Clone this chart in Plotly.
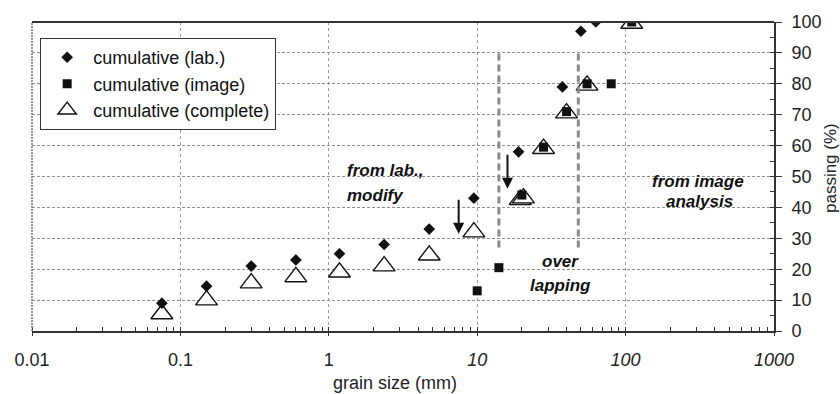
import math
import plotly.graph_objects as go

# Cumulative passing from laboratory sieving
lab_size = [0.075, 0.15, 0.3, 0.6, 1.18, 2.36, 4.75, 9.5, 19, 37.5, 50, 63]
lab_pass = [9, 14.5, 21, 23, 25, 28, 33, 43, 58, 79, 97, 100]

# Cumulative passing from image analysis
img_size = [10, 14, 20, 28, 40, 55, 80, 110]
img_pass = [13, 20.5, 44, 59.5, 71, 80, 80, 100]

# Complete curve: modified lab data below the overlap, image data above
cmp_size = [0.075, 0.15, 0.3, 0.6, 1.18, 2.36, 4.75, 9.5, 19.5, 20.5, 28, 40, 55, 110]
cmp_pass = [5.5, 10, 15.5, 17.5, 19, 21, 24.5, 32, 42.5, 43, 59, 70.5, 79.5, 99.5]

x_labels = {"10": "<i>10</i>", "100": "<i>100</i>", "1000": "<i>1000</i>"}

# overlap zone limits (mm) and its vertical extent (%)
overlap_bounds = [14, 48]
overlap_span = [27, 91]

# downward shift arrows: (size mm, start %, end %)
shift_arrows = [(7.5, 43, 31.5), (16, 57.5, 46)]

FONT = "Liberation Sans, Arial, sans-serif"
BI = dict(family=FONT, size=17, color="#111")

fig = go.Figure()

fig.add_trace(go.Scatter(
    x=cmp_size, y=cmp_pass, mode="markers", name="cumulative (complete)",
    legendrank=3,
    marker=dict(symbol="triangle-up", size=19, color="white",
                line=dict(color="#111", width=1.4)),
))
fig.add_trace(go.Scatter(
    x=img_size, y=img_pass, mode="markers", name="cumulative (image)",
    legendrank=2,
    marker=dict(symbol="square", size=9, color="#111"),
))
fig.add_trace(go.Scatter(
    x=lab_size, y=lab_pass, mode="markers", name="cumulative (lab.)",
    legendrank=1,
    marker=dict(symbol="diamond", size=9, color="#111"),
))

# dashed boundaries of the overlap zone
for xb in overlap_bounds:
    fig.add_trace(go.Scatter(
        x=[xb, xb], y=overlap_span, mode="lines", showlegend=False,
        hoverinfo="skip", line=dict(color="#8a8a8a", width=3, dash="7px,4px"),
    ))

annotations = []
for xs, y0, y1 in shift_arrows:
    lx = math.log10(xs)
    annotations.append(dict(
        x=lx, y=y1, ax=lx, ay=y0, xref="x", yref="y", axref="x", ayref="y",
        text="", showarrow=True, arrowhead=2, arrowsize=1.1, arrowwidth=2,
        arrowcolor="#111",
    ))


def note(text, lx, y, anchor="center"):
    annotations.append(dict(
        x=lx, y=y, xref="x", yref="y", text="<b><i>%s</i></b>" % text,
        showarrow=False, xanchor=anchor, yanchor="middle", font=BI,
    ))


note("from lab.,", 0.109, 52, "left")
note("modify", 0.109, 44, "left")
note("over", 1.558, 22.5)
note("lapping", 1.558, 14.8)
note("from image", 2.488, 48.5)
note("analysis", 2.50, 42)

# axis titles
annotations.append(dict(
    x=1.0755, y=0.5275, xref="paper", yref="paper", text="passing (%)",
    textangle=-90, showarrow=False, xanchor="center", yanchor="middle",
    font=dict(family=FONT, size=17, color="#222"),
))
annotations.append(dict(
    x=0.489, y=-0.168, xref="paper", yref="paper", text="grain size (mm)",
    showarrow=False, xanchor="center", yanchor="middle",
    font=dict(family=FONT, size=18, color="#222"),
))

shapes = [
    # left frame
    dict(type="line", xref="paper", yref="paper", x0=0, x1=0, y0=0, y1=1,
         line=dict(color="#777", width=1.5, dash="2px,1px")),
    # top frame
    dict(type="line", xref="paper", yref="paper", x0=0, x1=1, y0=1, y1=1,
         line=dict(color="#333", width=1.8)),
]

fig.update_layout(
    width=840, height=394,
    margin=dict(l=32, r=66, t=22, b=63),
    paper_bgcolor="white", plot_bgcolor="white",
    font=dict(family=FONT, color="#222"),
    showlegend=True,
    legend=dict(
        x=0.011, y=0.948, xanchor="left", yanchor="top",
        bgcolor="white", bordercolor="#333", borderwidth=1,
        font=dict(family=FONT, size=18, color="#111"),
        tracegroupgap=0, itemsizing="trace", itemwidth=42,
    ),
    annotations=annotations,
    shapes=shapes,
)

fig.update_xaxes(
    type="log", range=[-2, 3], tickmode="linear", tick0=0, dtick=1,
    exponentformat="none", labelalias=x_labels,
    tickfont=dict(family=FONT, size=18, color="#222"),
    ticks="outside", ticklen=3, tickcolor="#333", ticklabelstandoff=9,
    showgrid=True, gridcolor="#9a9a9a", gridwidth=1, griddash="dot",
    showline=True, linecolor="#333", linewidth=1.6, zeroline=False,
    minor=dict(dtick="D1", ticks="inside", ticklen=4, tickcolor="#333",
               showgrid=False),
)
fig.update_yaxes(
    range=[0, 100], tickmode="linear", tick0=0, dtick=10, side="right",
    tickfont=dict(family=FONT, size=18, color="#222"),
    ticks="outside", ticklen=6, tickcolor="#333", ticklabelstandoff=6,
    showgrid=True, gridcolor="#8f8f8f", gridwidth=1, griddash="3px,2px",
    showline=True, linecolor="#333", linewidth=1.6, zeroline=False,
    minor=dict(dtick=5, ticks="inside", ticklen=4, tickcolor="#333",
               showgrid=False),
)

fig.write_html("out.html")
